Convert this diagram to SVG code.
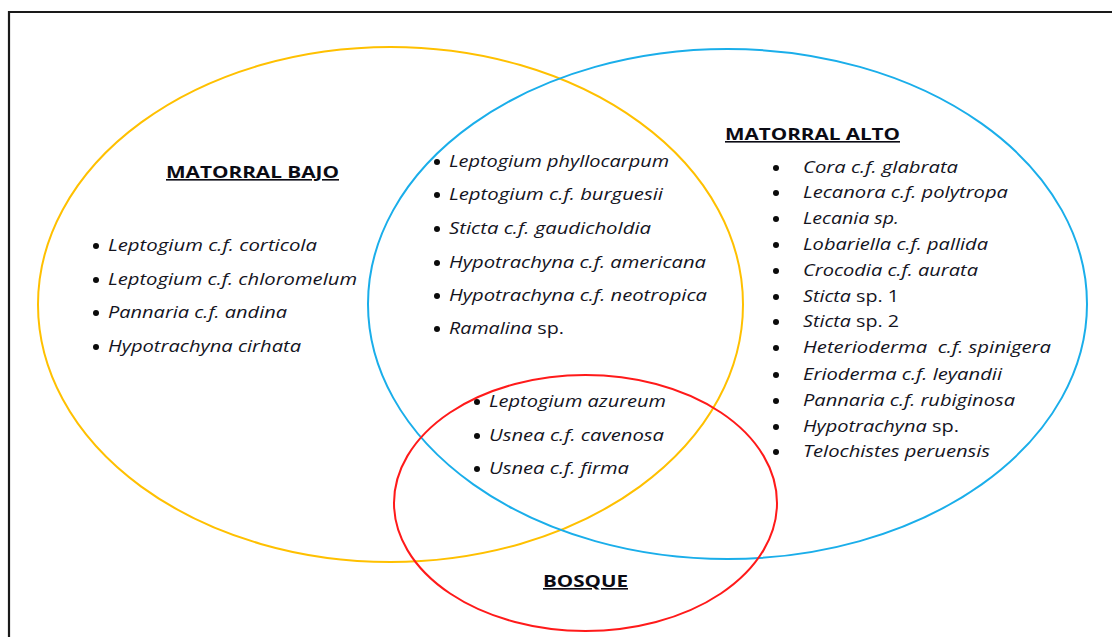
<svg xmlns="http://www.w3.org/2000/svg" width="1112" height="637" viewBox="0 0 1112 637">
<style>
.set{fill:none;stroke-width:2}
.yel{stroke:#FFC000}
.blu{stroke:#1AAEEA}
.red{stroke:#FF1A1A}
.h{font-family:"Open Sans","Liberation Sans",sans-serif;font-weight:bold;font-size:16px;fill:#0b0b14;text-decoration:underline}
.it{font-family:"Open Sans","Liberation Sans",sans-serif;font-style:italic;font-size:16px;fill:#14141e;white-space:pre}
.up{font-style:normal}
.b{fill:#0b0b0b}
</style>
<rect width="1112" height="637" fill="#fff"/>
<path d="M9 637 V12 H1112" fill="none" stroke="#1a1a1a" stroke-width="2.2"/>
<g id="matorral-bajo">
<ellipse class="set yel" cx="390.5" cy="304.5" rx="352.5" ry="257.5"/>
<text class="h" x="166" y="178" textLength="173" lengthAdjust="spacingAndGlyphs">MATORRAL BAJO</text>
<g id="lista-bajo">
<circle class="b" cx="96" cy="246" r="3"/><text class="it" x="108" y="251" textLength="209" lengthAdjust="spacingAndGlyphs">Leptogium c.f. corticola</text>
<circle class="b" cx="96" cy="280" r="3"/><text class="it" x="108" y="285" textLength="249" lengthAdjust="spacingAndGlyphs">Leptogium c.f. chloromelum</text>
<circle class="b" cx="96" cy="313" r="3"/><text class="it" x="108" y="318" textLength="179" lengthAdjust="spacingAndGlyphs">Pannaria c.f. andina</text>
<circle class="b" cx="96" cy="347" r="3"/><text class="it" x="108" y="352" textLength="193" lengthAdjust="spacingAndGlyphs">Hypotrachyna cirhata</text>
</g>
</g>
<g id="matorral-alto">
<ellipse class="set blu" cx="727.5" cy="304" rx="359.5" ry="255"/>
<text class="h" x="725" y="140" textLength="175" lengthAdjust="spacingAndGlyphs">MATORRAL ALTO</text>
<g id="lista-alto">
<circle class="b" cx="776" cy="168" r="3"/><text class="it" x="803" y="173" textLength="155" lengthAdjust="spacingAndGlyphs">Cora c.f. glabrata</text>
<circle class="b" cx="776" cy="193" r="3"/><text class="it" x="803" y="198" textLength="205" lengthAdjust="spacingAndGlyphs">Lecanora c.f. polytropa</text>
<circle class="b" cx="776" cy="219" r="3"/><text class="it" x="803" y="224" textLength="96" lengthAdjust="spacingAndGlyphs">Lecania sp.</text>
<circle class="b" cx="776" cy="245" r="3"/><text class="it" x="803" y="250" textLength="185" lengthAdjust="spacingAndGlyphs">Lobariella c.f. pallida</text>
<circle class="b" cx="776" cy="271" r="3"/><text class="it" x="803" y="276" textLength="175" lengthAdjust="spacingAndGlyphs">Crocodia c.f. aurata</text>
<circle class="b" cx="776" cy="297" r="3"/><text class="it" x="803" y="302" textLength="96" lengthAdjust="spacingAndGlyphs">Sticta<tspan class="up"> sp. 1</tspan></text>
<circle class="b" cx="776" cy="322" r="3"/><text class="it" x="803" y="327" textLength="96" lengthAdjust="spacingAndGlyphs">Sticta<tspan class="up"> sp. 2</tspan></text>
<circle class="b" cx="776" cy="348" r="3"/><text class="it" x="803" y="353" textLength="248" lengthAdjust="spacingAndGlyphs">Heterioderma  c.f. spinigera</text>
<circle class="b" cx="776" cy="375" r="3"/><text class="it" x="803" y="380" textLength="199" lengthAdjust="spacingAndGlyphs">Erioderma c.f. leyandii</text>
<circle class="b" cx="776" cy="401" r="3"/><text class="it" x="803" y="406" textLength="212" lengthAdjust="spacingAndGlyphs">Pannaria c.f. rubiginosa</text>
<circle class="b" cx="776" cy="427" r="3"/><text class="it" x="803" y="432" textLength="156" lengthAdjust="spacingAndGlyphs">Hypotrachyna<tspan class="up"> sp.</tspan></text>
<circle class="b" cx="776" cy="452" r="3"/><text class="it" x="803" y="457" textLength="187" lengthAdjust="spacingAndGlyphs">Telochistes peruensis</text>
</g>
</g>
<g id="bosque">
<ellipse class="set red" cx="585.5" cy="503" rx="191.5" ry="128"/>
<text class="h" x="543" y="587" textLength="85" lengthAdjust="spacingAndGlyphs">BOSQUE</text>
</g>
<g id="bajo-alto">
<circle class="b" cx="437" cy="162" r="3"/><text class="it" x="449" y="167" textLength="220" lengthAdjust="spacingAndGlyphs">Leptogium phyllocarpum</text>
<circle class="b" cx="437" cy="195" r="3"/><text class="it" x="449" y="200" textLength="214" lengthAdjust="spacingAndGlyphs">Leptogium c.f. burguesii</text>
<circle class="b" cx="437" cy="229" r="3"/><text class="it" x="449" y="234" textLength="202" lengthAdjust="spacingAndGlyphs">Sticta c.f. gaudicholdia</text>
<circle class="b" cx="437" cy="263" r="3"/><text class="it" x="449" y="268" textLength="257" lengthAdjust="spacingAndGlyphs">Hypotrachyna c.f. americana</text>
<circle class="b" cx="437" cy="296" r="3"/><text class="it" x="449" y="301" textLength="258" lengthAdjust="spacingAndGlyphs">Hypotrachyna c.f. neotropica</text>
<circle class="b" cx="437" cy="329" r="3"/><text class="it" x="449" y="334" textLength="115" lengthAdjust="spacingAndGlyphs">Ramalina<tspan class="up"> sp.</tspan></text>
</g>
<g id="bajo-alto-bosque">
<circle class="b" cx="477" cy="402" r="3"/><text class="it" x="489" y="407" textLength="177" lengthAdjust="spacingAndGlyphs">Leptogium azureum</text>
<circle class="b" cx="477" cy="436" r="3"/><text class="it" x="489" y="441" textLength="175" lengthAdjust="spacingAndGlyphs">Usnea c.f. cavenosa</text>
<circle class="b" cx="477" cy="469" r="3"/><text class="it" x="489" y="474" textLength="140" lengthAdjust="spacingAndGlyphs">Usnea c.f. firma</text>
</g>
</svg>
